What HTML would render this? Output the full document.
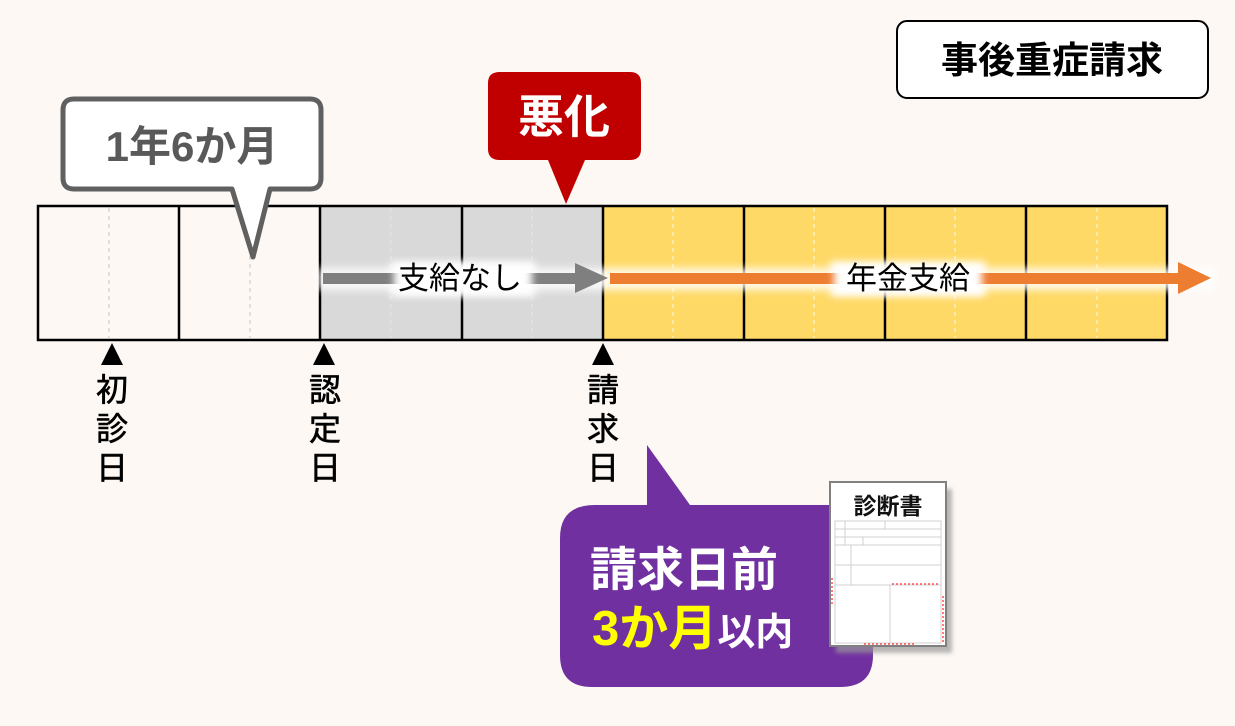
<!DOCTYPE html>
<html><head><meta charset="utf-8"><style>
html,body{margin:0;padding:0;background:#fdf8f4;}
svg{display:block;}
text{font-family:"Liberation Sans","Noto Sans CJK JP",sans-serif;}
</style></head><body>
<svg width="1235" height="726" viewBox="0 0 1235 726" xmlns="http://www.w3.org/2000/svg">
<defs>
<filter id="glow" x="-20%" y="-80%" width="140%" height="260%"><feGaussianBlur stdDeviation="4"/></filter>
<filter id="sh" x="-10%" y="-10%" width="130%" height="130%"><feGaussianBlur stdDeviation="2"/></filter>
</defs>
<rect width="1235" height="726" fill="#fdf8f4"/>
<rect x="38" y="206" width="282" height="134" fill="#fdf8f4"/>
<rect x="320" y="206" width="283" height="134" fill="#d9d9d9"/>
<rect x="603" y="206" width="564" height="134" fill="#ffd966"/>
<g stroke="#e0e0e0" stroke-width="2" stroke-dasharray="4,4">
<line x1="109" y1="208" x2="109" y2="338"/><line x1="250" y1="208" x2="250" y2="338"/>
<line x1="391" y1="208" x2="391" y2="338"/><line x1="532" y1="208" x2="532" y2="338"/>
<line x1="673" y1="208" x2="673" y2="338" stroke="#ffe9a8"/><line x1="814" y1="208" x2="814" y2="338" stroke="#ffe9a8"/>
<line x1="955" y1="208" x2="955" y2="338" stroke="#ffe9a8"/><line x1="1097" y1="208" x2="1097" y2="338" stroke="#ffe9a8"/>
</g>
<g stroke="#000" stroke-width="2.5" fill="none">
<rect x="38" y="206" width="1129" height="134"/>
<line x1="179" y1="206" x2="179" y2="340"/><line x1="320" y1="206" x2="320" y2="340"/>
<line x1="462" y1="206" x2="462" y2="340"/><line x1="603" y1="206" x2="603" y2="340"/>
<line x1="744" y1="206" x2="744" y2="340"/><line x1="885" y1="206" x2="885" y2="340"/>
<line x1="1026" y1="206" x2="1026" y2="340"/>
</g>
<g filter="url(#glow)" opacity="0.85">
<rect x="318" y="268" width="300" height="22" fill="#fff"/>
<rect x="605" y="268" width="610" height="22" fill="#fff"/>
<rect x="390" y="262" width="146" height="34" fill="#fff"/>
<rect x="830" y="262" width="156" height="34" fill="#fff"/>
</g>
<rect x="323" y="273" width="255" height="11" fill="#7f7f7f"/>
<polygon points="575,263 608,278 575,293" fill="#7f7f7f"/>
<rect x="610" y="273" width="572" height="11" fill="#ed7d31"/>
<polygon points="1178,262 1211,278 1178,294" fill="#ed7d31"/>
<rect x="394" y="264" width="138" height="30" fill="#fff" filter="url(#glow)"/>
<rect x="834" y="264" width="148" height="30" fill="#fff" filter="url(#glow)"/>
<text x="460" y="289" font-size="31" text-anchor="middle" fill="#000">支給なし</text>
<text x="908" y="289" font-size="31" text-anchor="middle" fill="#000">年金支給</text>
<path d="M74,99 H310 Q321,99 321,110 V178 Q321,189 310,189 H270 L253,257 L232,189 H74 Q63,189 63,178 V110 Q63,99 74,99 Z" fill="#fff" stroke="#606060" stroke-width="5" stroke-linejoin="round"/>
<text x="192" y="161" font-size="42" font-weight="bold" text-anchor="middle" fill="#595959">1年6か月</text>
<path d="M500,72 H630 Q641,72 641,83 V149 Q641,160 630,160 H585 L566,204 L548,160 H500 Q488,160 488,149 V83 Q488,72 500,72 Z" fill="#c00000"/>
<text x="564" y="133" font-size="46" font-weight="bold" text-anchor="middle" fill="#fff">悪化</text>
<rect x="897" y="21" width="311" height="77" rx="10" fill="#fff" stroke="#000" stroke-width="2"/>
<text x="1052" y="73" font-size="37" font-weight="bold" text-anchor="middle" fill="#000">事後重症請求</text>
<polygon points="112,343 101,365 123,365" fill="#000"/>
<polygon points="324,343 313,365 335,365" fill="#000"/>
<polygon points="603,343 592,365 614,365" fill="#000"/>
<g font-size="32" text-anchor="middle" fill="#000" stroke="#000" stroke-width="0.6">
<text x="112" y="401">初</text><text x="112" y="440">診</text><text x="112" y="479">日</text>
<text x="325" y="401">認</text><text x="325" y="440">定</text><text x="325" y="479">日</text>
<text x="603" y="401">請</text><text x="603" y="440">求</text><text x="603" y="479">日</text>
</g>
<path d="M595,505 H647 V445 L690,505 H840 Q873,505 873,538 V655 Q873,687 840,687 H592 Q560,687 560,655 V538 Q560,505 595,505 Z" fill="#7030a0"/>
<text x="590" y="586" font-size="47" font-weight="bold" fill="#fff">請求日前</text>
<text x="592" y="645" font-size="49" font-weight="bold" fill="#ffff00">3か月<tspan font-size="38" fill="#fff">以内</tspan></text>
<rect x="836" y="489" width="116" height="164" fill="#999" filter="url(#sh)" opacity="0.7"/>
<rect x="830" y="482" width="116" height="164" fill="#fff" stroke="#808080" stroke-width="2"/>
<text x="888" y="514" font-size="23" font-weight="bold" text-anchor="middle" fill="#111">診断書</text>
<g stroke="#d0d0d0" stroke-width="1" fill="none">
<rect x="835" y="521" width="106" height="122"/>
<line x1="835" y1="529" x2="941" y2="529"/><line x1="835" y1="537" x2="941" y2="537"/>
<line x1="835" y1="545" x2="941" y2="545"/><line x1="835" y1="565" x2="941" y2="565"/>
<line x1="835" y1="585" x2="941" y2="585"/>
<line x1="845" y1="521" x2="845" y2="545"/><line x1="885" y1="521" x2="885" y2="529"/>
<line x1="863" y1="537" x2="863" y2="545"/><line x1="851" y1="545" x2="851" y2="585"/>
<line x1="890" y1="585" x2="890" y2="643"/>
</g>
<g stroke="#ff5050" stroke-width="1.5" stroke-dasharray="2,2" fill="none">
<line x1="892" y1="584" x2="940" y2="584"/><line x1="832" y1="578" x2="832" y2="606"/>
<line x1="943" y1="596" x2="943" y2="642"/><line x1="864" y1="644" x2="915" y2="644"/>
</g>
</svg>
</body></html>
